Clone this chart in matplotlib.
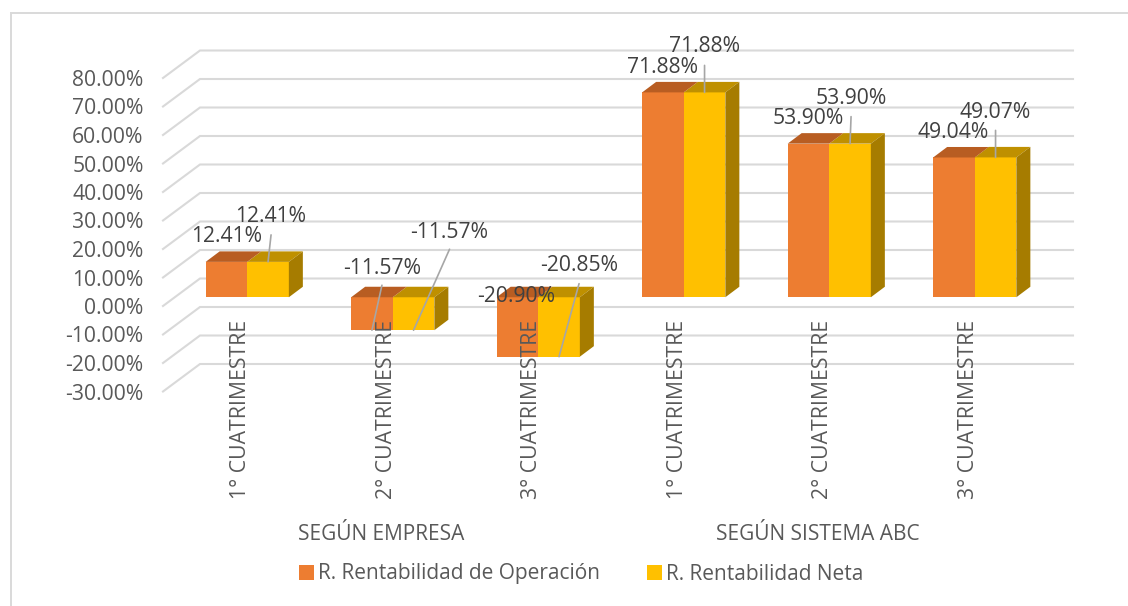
import matplotlib
matplotlib.use("Agg")
import matplotlib.pyplot as plt
from matplotlib.lines import Line2D

plt.rcParams["font.family"] = ["Open Sans", "DejaVu Sans"]

categories = ["1° CUATRIMESTRE", "2° CUATRIMESTRE", "3° CUATRIMESTRE",
              "1° CUATRIMESTRE", "2° CUATRIMESTRE", "3° CUATRIMESTRE"]
groups = ["SEGÚN EMPRESA", "SEGÚN SISTEMA ABC"]
operacion = [12.41, -11.57, -20.90, 71.88, 53.90, 49.04]
neta = [12.41, -11.57, -20.85, 71.88, 53.90, 49.07]
yticks = [80, 70, 60, 50, 40, 30, 20, 10, 0, -10, -20, -30]

# label offsets in pixels from the end of each bar
op_text = [(0.5, 25), (10, 62), (-1.5, 60), (0, 25), (0, 25), (-1, 25)]
op_line = [None, (10, 45), None, None, None, None]
net_text = [(3, 45), (36, 98), (20, 91), (0, 46), (1, 45), (0, 45)]
net_line = [(3, 27), (36, 81), (20, 73), (0, 27), (1, 27), (0, 27)]

W, H = 1128, 606
PX_X = 145.5
PX_Y = 2.85

fig = plt.figure(figsize=(W / 100, H / 100), dpi=100)
ax = fig.add_axes([163 / W, 1 - 391.5 / H, 873 / W, 313.5 / H])
ax.set_xlim(-0.5, 5.5)
ax.set_ylim(-30, 80)
for s in ax.spines.values():
    s.set_visible(False)

# frame of the chart area, only left and top are in the crop
fig.add_artist(Line2D([11 / W, 11 / W, 1], [0, 1 - 13 / H, 1 - 13 / H],
                      color="#D9D9D9", lw=1.4, solid_joinstyle="miter"))

# 3d walls
wall_x = 37 / PX_X
wall_y = 27.5 / PX_Y
for v in yticks:
    ax.plot([-0.5, -0.5 + wall_x, 5.5 + wall_x], [v, v + wall_y, v + wall_y],
            color="#D9D9D9", lw=1.5, clip_on=False, zorder=1,
            solid_joinstyle="miter")

# bars sit halfway in the depth of the floor
shift_x = 11.5 / PX_X
shift_y = 8.75 / PX_Y
depth_x = 14 / PX_X
depth_y = 10.5 / PX_Y
bw = 41.6 / PX_X


def draw_bar(x0, val, color, top_color, side=None):
    base = shift_y
    end = val + shift_y
    hi = max(base, end)
    lo = min(base, end)
    b = ax.bar(x0, val, bw, bottom=base, align="edge", color=color,
               clip_on=False, zorder=3)
    ax.fill([x0, x0 + bw, x0 + bw + depth_x, x0 + depth_x],
            [hi, hi, hi + depth_y, hi + depth_y],
            color=top_color, lw=0, clip_on=False, zorder=3)
    if side:
        xr = x0 + bw
        ax.fill([xr, xr + depth_x, xr + depth_x, xr],
                [hi, hi + depth_y, lo + depth_y, lo],
                color=side, lw=0, clip_on=False, zorder=3)
    return b


h1 = h2 = None
for i in range(len(categories)):
    c = i + shift_x
    h2 = draw_bar(c, neta[i], "#FFC000", "#BF9000", "#A67C00")
    h1 = draw_bar(c - bw, operacion[i], "#ED7D31", "#B85D22")


def put_label(x, val, text_off, line_off):
    xy = (x, val + shift_y)
    if line_off:
        ax.annotate("", xy=xy, xytext=line_off, textcoords="offset pixels",
                    arrowprops=dict(arrowstyle="-", color="#A6A6A6", lw=1.2,
                                    shrinkA=0, shrinkB=0), zorder=4)
    ax.annotate(f"{val:.2f}%", xy=xy, xytext=text_off,
                textcoords="offset pixels", ha="center", va="center",
                fontsize=15.2, color="#404040", zorder=6,
                annotation_clip=False)


for i in range(len(categories)):
    c = i + shift_x
    put_label(c - bw / 2, operacion[i], op_text[i], op_line[i])
    put_label(c + bw / 2, neta[i], net_text[i], net_line[i])

ax.set_yticks(yticks)
ax.set_yticklabels([f"{v:.2f}%" for v in yticks], fontsize=15.2, color="#595959")
ax.tick_params(axis="y", length=0, pad=14)

# category labels hang from the zero line, over the bars
ax.set_xticks(range(len(categories)))
ax.set_xticklabels([])
ax.tick_params(axis="x", length=0)
for i, cat in enumerate(categories):
    ax.annotate(cat, xy=(i, 0), xytext=(5, -14), textcoords="offset pixels",
                rotation=90, ha="center", va="top", fontsize=15.3,
                color="#595959", zorder=5, annotation_clip=False)

ax.text(1, -80, groups[0], ha="center", va="center", fontsize=15, color="#595959")
ax.text(4, -80, groups[1], ha="center", va="center", fontsize=15, color="#595959")

fig.legend([h1, h2], ["R. Rentabilidad de Operación", "R. Rentabilidad Neta"],
           loc="center", bbox_to_anchor=(581 / W, 1 - 574 / H), ncol=2,
           frameon=False, fontsize=15, labelcolor="#595959",
           handlelength=0.72, handleheight=0.72, handletextpad=0.2,
           columnspacing=2.25)

fig.savefig("out.png", dpi=100)
